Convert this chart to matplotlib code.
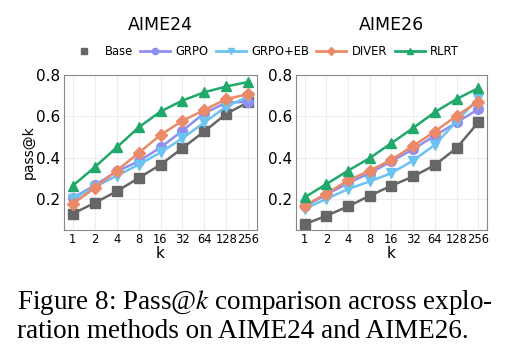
import matplotlib
matplotlib.use("Agg")
import matplotlib.pyplot as plt
from matplotlib.lines import Line2D

plt.rcParams['mathtext.fontset'] = 'stix'

k_labels = ["1", "2", "4", "8", "16", "32", "64", "128", "256"]
methods = ["Base", "GRPO", "GRPO+EB", "DIVER", "RLRT"]

# AIME24 pass@k
aime24_base = [0.129, 0.181, 0.237, 0.301, 0.366, 0.446, 0.527, 0.612, 0.668]
aime24_grpo = [0.205, 0.266, 0.333, 0.382, 0.449, 0.530, 0.615, 0.666, 0.670]
aime24_grpo_eb = [0.200, 0.258, 0.312, 0.366, 0.425, 0.494, 0.570, 0.647, 0.695]
aime24_diver = [0.177, 0.253, 0.337, 0.422, 0.510, 0.578, 0.631, 0.683, 0.707]
aime24_rlrt = [0.264, 0.354, 0.449, 0.546, 0.623, 0.676, 0.716, 0.744, 0.766]

# AIME26 pass@k
aime26_base = [0.078, 0.119, 0.164, 0.216, 0.264, 0.309, 0.364, 0.446, 0.570]
aime26_grpo = [0.164, 0.221, 0.277, 0.325, 0.382, 0.441, 0.506, 0.570, 0.634]
aime26_grpo_eb = [0.153, 0.200, 0.248, 0.285, 0.325, 0.386, 0.462, 0.575, 0.687]
aime26_diver = [0.168, 0.226, 0.290, 0.337, 0.390, 0.457, 0.526, 0.602, 0.671]
aime26_rlrt = [0.208, 0.272, 0.337, 0.398, 0.470, 0.543, 0.620, 0.683, 0.736]

colors = {"Base": "#666666", "GRPO": "#8f8ff0", "GRPO+EB": "#6cc3f2",
          "DIVER": "#eb8a68", "RLRT": "#20a96a"}
markers = {"Base": "s", "GRPO": "o", "GRPO+EB": "v", "DIVER": "D", "RLRT": "^"}


def draw_panel(ax, title, series):
    x = list(range(len(k_labels)))
    for name, vals in zip(methods, series):
        ax.plot(x, vals, color=colors[name], marker=markers[name],
                markersize=7 if markers[name] != "D" else 6, linewidth=1.8)
    ax.set_xticks(x)
    ax.set_xticklabels(k_labels, fontsize=8.3)
    ax.set_xlim(-0.4, 8.4)
    ax.set_ylim(0.05, 0.8)
    ax.set_yticks([0.2, 0.4, 0.6, 0.8])
    ax.tick_params(axis='y', labelsize=11, length=0, pad=3)
    ax.tick_params(axis='x', length=0, pad=2)
    ax.grid(True, color="#ededed", linewidth=0.8)
    ax.set_axisbelow(True)
    for s in ax.spines.values():
        s.set_color("#888888")
    ax.set_xlabel("k", fontsize=11, labelpad=0)
    ax.set_title(title, fontsize=12.5, pad=32)


fig = plt.figure(figsize=(5.12, 3.6), dpi=100)
ax1 = fig.add_axes([0.125, 0.361, 0.377, 0.431])
ax2 = fig.add_axes([0.578, 0.361, 0.373, 0.431])

draw_panel(ax1, "AIME24", [aime24_base, aime24_grpo, aime24_grpo_eb, aime24_diver, aime24_rlrt])
draw_panel(ax2, "AIME26", [aime26_base, aime26_grpo, aime26_grpo_eb, aime26_diver, aime26_rlrt])
ax1.set_ylabel("pass@k", fontsize=10, labelpad=0)

handles = []
for name in methods:
    ls = "none" if name == "Base" else "-"
    handles.append(Line2D([], [], color=colors[name], marker=markers[name],
                          linestyle=ls, linewidth=2, markersize=4.5))
fig.legend(handles, methods, loc="center", bbox_to_anchor=(0.516, 0.856), ncol=5,
           frameon=False, fontsize=8.3, handlelength=2.6, columnspacing=0.6,
           handletextpad=0.5)

fig.text(0.033, 0.142, "Figure 8: Pass@$k$ comparison across explo-",
         family="Liberation Serif", fontsize=19.5)
fig.text(0.033, 0.061, "ration methods on AIME24 and AIME26.",
         family="Liberation Serif", fontsize=19.5)

fig.savefig("out.png", dpi=100)
